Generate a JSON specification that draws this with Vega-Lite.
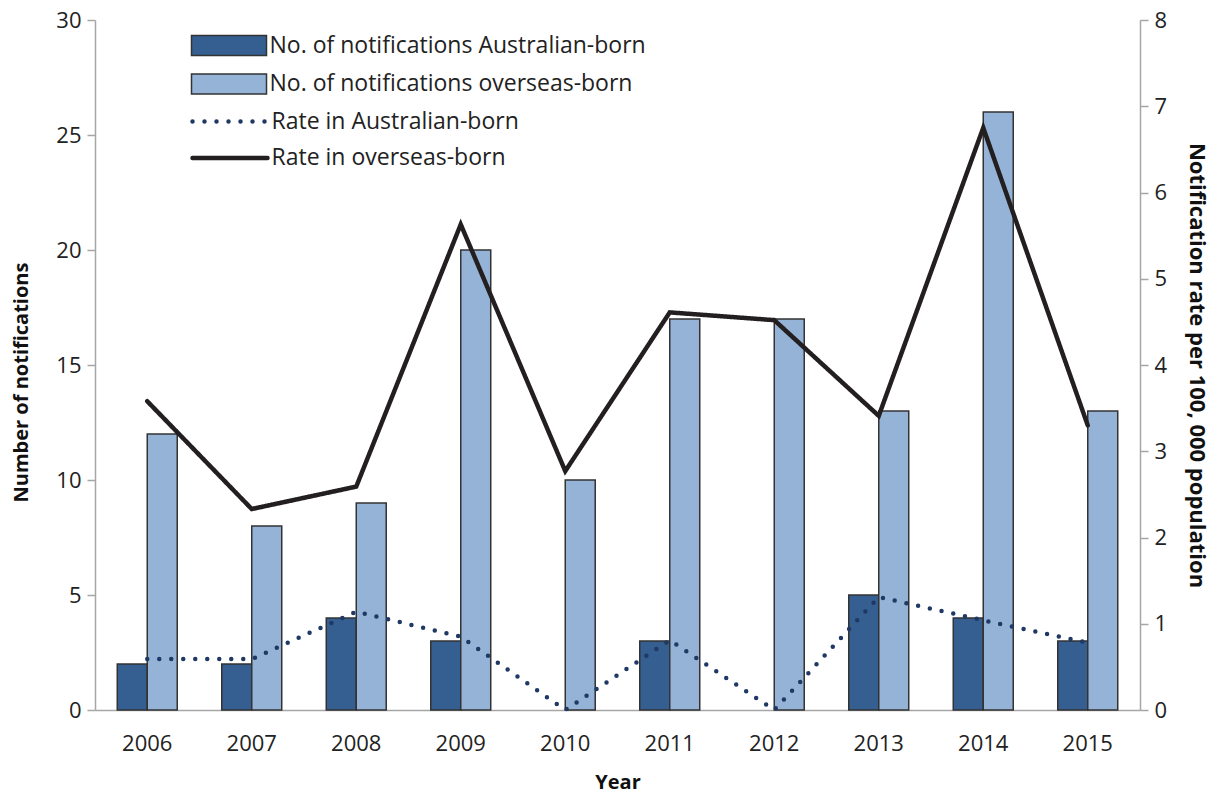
{
  "$schema": "https://vega.github.io/schema/vega-lite/v6.json",
  "width": 1045,
  "height": 690,
  "autosize": "none",
  "padding": {"left": 95, "top": 20, "right": 79, "bottom": 88},
  "background": "white",
  "config": {
    "view": {"stroke": null},
    "font": "Open Sans",
    "axis": {
      "labelFont": "Open Sans",
      "labelFontSize": 22,
      "labelColor": "#222222",
      "titleFont": "Open Sans",
      "titleFontSize": 20,
      "titleFontWeight": "bold",
      "titleColor": "#111111",
      "domainColor": "#a6a6a6",
      "domainWidth": 1.5,
      "tickColor": "#a6a6a6",
      "tickWidth": 1.5,
      "grid": false
    },
    "legend": {
      "labelFont": "Open Sans",
      "labelFontSize": 23,
      "labelColor": "#222222",
      "labelLimit": 600
    }
  },
  "datasets": {
    "counts": [
      {"year": "2006", "series": "No. of notifications Australian-born", "n": 2},
      {"year": "2006", "series": "No. of notifications overseas-born", "n": 12},
      {"year": "2007", "series": "No. of notifications Australian-born", "n": 2},
      {"year": "2007", "series": "No. of notifications overseas-born", "n": 8},
      {"year": "2008", "series": "No. of notifications Australian-born", "n": 4},
      {"year": "2008", "series": "No. of notifications overseas-born", "n": 9},
      {"year": "2009", "series": "No. of notifications Australian-born", "n": 3},
      {"year": "2009", "series": "No. of notifications overseas-born", "n": 20},
      {"year": "2010", "series": "No. of notifications Australian-born", "n": 0},
      {"year": "2010", "series": "No. of notifications overseas-born", "n": 10},
      {"year": "2011", "series": "No. of notifications Australian-born", "n": 3},
      {"year": "2011", "series": "No. of notifications overseas-born", "n": 17},
      {"year": "2012", "series": "No. of notifications Australian-born", "n": 0},
      {"year": "2012", "series": "No. of notifications overseas-born", "n": 17},
      {"year": "2013", "series": "No. of notifications Australian-born", "n": 5},
      {"year": "2013", "series": "No. of notifications overseas-born", "n": 13},
      {"year": "2014", "series": "No. of notifications Australian-born", "n": 4},
      {"year": "2014", "series": "No. of notifications overseas-born", "n": 26},
      {"year": "2015", "series": "No. of notifications Australian-born", "n": 3},
      {"year": "2015", "series": "No. of notifications overseas-born", "n": 13}
    ],
    "rates": [
      {"year": "2006", "series": "Rate in Australian-born", "rate": 0.59},
      {"year": "2007", "series": "Rate in Australian-born", "rate": 0.59},
      {"year": "2008", "series": "Rate in Australian-born", "rate": 1.14},
      {"year": "2009", "series": "Rate in Australian-born", "rate": 0.85},
      {"year": "2010", "series": "Rate in Australian-born", "rate": 0},
      {"year": "2011", "series": "Rate in Australian-born", "rate": 0.81},
      {"year": "2012", "series": "Rate in Australian-born", "rate": 0},
      {"year": "2013", "series": "Rate in Australian-born", "rate": 1.31},
      {"year": "2014", "series": "Rate in Australian-born", "rate": 1.04},
      {"year": "2015", "series": "Rate in Australian-born", "rate": 0.78},
      {"year": "2006", "series": "Rate in overseas-born", "rate": 3.58},
      {"year": "2007", "series": "Rate in overseas-born", "rate": 2.33},
      {"year": "2008", "series": "Rate in overseas-born", "rate": 2.59},
      {"year": "2009", "series": "Rate in overseas-born", "rate": 5.63},
      {"year": "2010", "series": "Rate in overseas-born", "rate": 2.77},
      {"year": "2011", "series": "Rate in overseas-born", "rate": 4.61},
      {"year": "2012", "series": "Rate in overseas-born", "rate": 4.52},
      {"year": "2013", "series": "Rate in overseas-born", "rate": 3.41},
      {"year": "2014", "series": "Rate in overseas-born", "rate": 6.75},
      {"year": "2015", "series": "Rate in overseas-born", "rate": 3.30}
    ]
  },
  "layer": [
    {
      "data": {"name": "counts"},
      "mark": {"type": "bar", "strokeWidth": 1.5},
      "encoding": {
        "x": {
          "field": "year", "type": "nominal",
          "scale": {"paddingInner": 0.426, "paddingOuter": 0.213},
          "axis": {"title": "Year", "labelAngle": 0, "ticks": false, "labelPadding": 23, "titlePadding": 18}
        },
        "xOffset": {"field": "series", "type": "nominal", "scale": {"paddingInner": 0, "paddingOuter": 0}},
        "y": {
          "field": "n", "type": "quantitative",
          "scale": {"domain": [0, 30], "nice": false},
          "axis": {"title": "Number of notifications", "values": [0, 5, 10, 15, 20, 25, 30], "tickSize": 8, "labelPadding": 6, "titlePadding": 24, "titleY": 362}
        },
        "fill": {
          "field": "series", "type": "nominal",
          "scale": {"domain": ["No. of notifications Australian-born", "No. of notifications overseas-born"], "range": ["#355f91", "#95b3d7"]},
          "legend": {
            "title": null,
            "orient": "none",
            "legendX": 122.5,
            "legendY": 14,
            "symbolType": "M-3.75,-1H3.75V1H-3.75Z",
            "symbolSize": 400,
            "symbolStrokeColor": "#333333",
            "symbolStrokeWidth": 1.5,
            "rowPadding": 11.5,
            "labelOffset": 29
          }
        },
        "stroke": {"condition": {"test": "datum.n > 0", "value": "#333333"}, "value": null}
      }
    },
    {
      "data": {"name": "rates"},
      "mark": {"type": "line", "strokeCap": "round", "strokeWidth": 4.5},
      "encoding": {
        "x": {"field": "year", "type": "nominal"},
        "y": {
          "field": "rate", "type": "quantitative",
          "scale": {"domain": [0, 8], "nice": false},
          "axis": {"orient": "right", "title": "Notification rate per 100, 000 population", "titleFontSize": 22, "values": [0, 1, 2, 3, 4, 5, 6, 7, 8], "tickSize": 8, "labelPadding": 6, "titlePadding": 18}
        },
        "stroke": {
          "field": "series", "type": "nominal",
          "scale": {"domain": ["Rate in Australian-born", "Rate in overseas-born"], "range": ["#1f3864", "#231f20"]},
          "legend": {
            "title": null,
            "orient": "none",
            "legendX": 122.5,
            "legendY": 89,
            "symbolType": "M-3.75,0H3.75",
            "symbolSize": 400,
            "symbolStrokeWidth": 4.5,
            "rowPadding": 11.5,
            "labelOffset": 29,
            "encode": {"symbols": {"update": {"strokeCap": {"value": "round"}}}}
          }
        },
        "strokeDash": {
          "field": "series", "type": "nominal",
          "scale": {"domain": ["Rate in Australian-born", "Rate in overseas-born"], "range": [[0, 12], [1, 0]]}
        }
      }
    }
  ],
  "resolve": {"scale": {"y": "independent", "fill": "independent", "stroke": "independent", "strokeDash": "independent"}}
}
